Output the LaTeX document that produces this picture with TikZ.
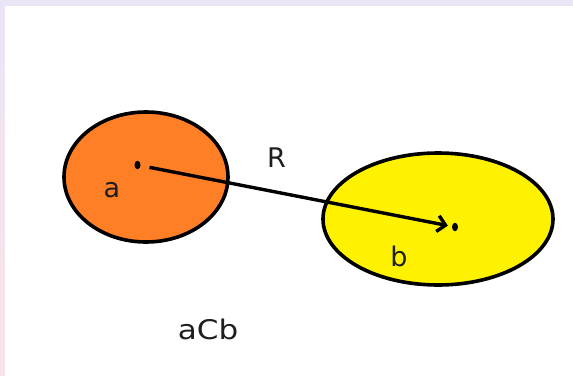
\documentclass[tikz,border=0pt]{standalone}
\usepackage{fontspec}
\setmainfont{DejaVu Sans}
\usetikzlibrary{shapes.geometric,arrows.meta}
\definecolor{paintorange}{RGB}{255,127,39}
\definecolor{paintyellow}{RGB}{255,242,0}
\definecolor{bandtop}{RGB}{235,228,245}
\definecolor{bandbot}{RGB}{250,227,232}
\definecolor{inkdark}{RGB}{30,30,30}
\begin{document}
\begin{tikzpicture}[x=1pt,y=-1pt,
  blob/.style={ellipse,draw=black,line width=3.6pt,inner sep=0pt},
  dotn/.style={ellipse,fill=black,inner sep=0pt,minimum width=6pt,minimum height=8.5pt},
  lbl/.style={font=\fontsize{27}{27}\selectfont,text=inkdark,inner sep=0pt}]
\fill[white] (0,0) rectangle (573,375);
\useasboundingbox (0,0) rectangle (573,375);
\fill[bandtop] (0,0) rectangle (573,5.5);
\shade[top color=bandtop,bottom color=bandbot] (0,0) rectangle (4.8,375);
\node[blob,fill=paintorange,minimum width=164pt,minimum height=130pt] (A) at (146,177) {};
\node[blob,fill=paintyellow,minimum width=230pt,minimum height=132pt] (B) at (438,219) {};
\node[dotn] (da) at (137.5,165) {};
\node[dotn] (db) at (455,227) {};
\draw[line width=3.4pt,shorten <=9pt,shorten >=4pt,-{Straight Barb[length=8pt,width=16pt,line width=3.4pt]}] (da) -- (db);
\node[lbl] (la) at (112,190) {a};
\node[lbl] (lr) at (276.5,158) {R};
\node[lbl] (lb) at (399,256) {b};
\node[lbl,xscale=1.15] (lc) at (208,329) {aCb};
\end{tikzpicture}
\end{document}
